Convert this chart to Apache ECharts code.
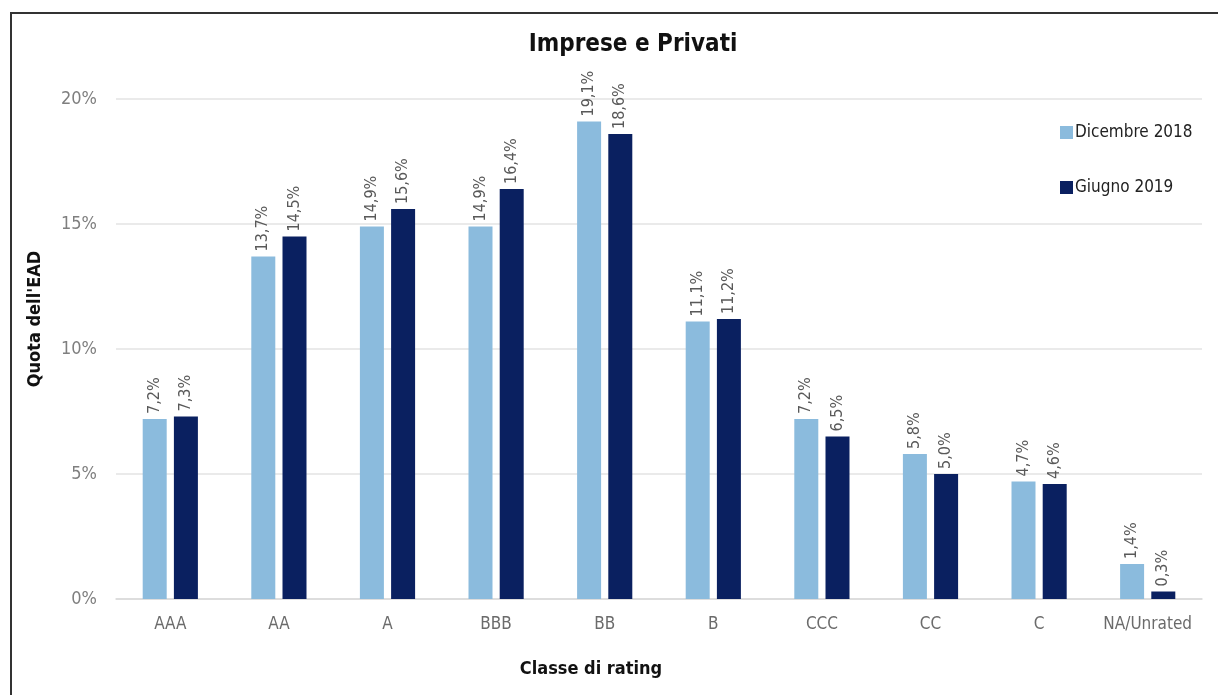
<!DOCTYPE html>
<html>
<head>
<meta charset="utf-8">
<script src="https://cdn.jsdelivr.net/npm/echarts@6/dist/echarts.min.js"></script>
<style>
  html, body { margin: 0; padding: 0; background: #ffffff; }
  #chart { width: 1218px; height: 695px; }
</style>
</head>
<body>
<div id="chart"></div>
<script>
// Rating classes on the x axis
const categories = ['AAA', 'AA', 'A', 'BBB', 'BB', 'B', 'CCC', 'CC', 'C', 'NA/Unrated'];
// Share of EAD (%) per rating class
const dic2018 = [7.2, 13.7, 14.9, 14.9, 19.1, 11.1, 7.2, 5.8, 4.7, 1.4];
const giu2019 = [7.3, 14.5, 15.6, 16.4, 18.6, 11.2, 6.5, 5.0, 4.6, 0.3];
const seriesNames = ['Dicembre 2018', 'Giugno 2019'];
const yTicks = [0, 5, 10, 15, 20];

const FONT = "'DejaVu Sans Condensed', 'Liberation Sans', sans-serif";
const fmt = v => v.toFixed(1).replace('.', ',') + '%';

const chart = echarts.init(document.getElementById('chart'), null, { renderer: 'canvas' });

const barLabel = {
  show: true,
  position: 'top',
  rotate: 90,
  align: 'left',
  verticalAlign: 'middle',
  distance: 5,
  fontFamily: FONT,
  fontSize: 16,
  color: '#595959',
  formatter: p => fmt(p.value)
};

chart.setOption({
  backgroundColor: '#ffffff',
  animation: false,
  graphic: [
    {
      type: 'rect',
      shape: { x: 11, y: 13, width: 1240, height: 720 },
      style: { fill: 'none', stroke: '#333333', lineWidth: 2 },
      silent: true
    },
    {
      // y-axis title
      type: 'text',
      x: 35,
      y: 319,
      rotation: Math.PI / 2,
      style: {
        text: "Quota dell'EAD",
        fontFamily: FONT, fontSize: 18, fontWeight: 'bold', fill: '#111111',
        align: 'center', verticalAlign: 'middle'
      },
      silent: true
    },
    {
      // x-axis title
      type: 'text',
      x: 591,
      y: 669,
      style: {
        text: 'Classe di rating',
        fontFamily: FONT, fontSize: 18, fontWeight: 'bold', fill: '#111111',
        align: 'center', verticalAlign: 'middle'
      },
      silent: true
    }
  ],
  title: {
    text: 'Imprese e Privati',
    left: 628,
    textAlign: 'center',
    top: 28,
    textStyle: { fontFamily: FONT, fontSize: 24, fontWeight: 'bold', color: '#111111' }
  },
  legend: {
    orient: 'vertical',
    left: 1055,
    top: 119,
    itemWidth: 13,
    itemHeight: 13,
    itemGap: 38,
    icon: 'rect',
    data: seriesNames,
    textStyle: { fontFamily: FONT, fontSize: 17, color: '#222222', padding: [0, 0, 0, -3] }
  },
  grid: { left: 116, right: 16, top: 99, bottom: 96 },
  xAxis: {
    type: 'category',
    data: categories,
    axisLine: { lineStyle: { color: '#D9D9D9', width: 1.5 } },
    axisTick: { show: false },
    axisLabel: { interval: 0, fontFamily: FONT, fontSize: 17, color: '#6b6b6b', margin: 17 }
  },
  yAxis: {
    type: 'value',
    min: yTicks[0],
    max: yTicks[yTicks.length - 1],
    interval: 5,
    axisLine: { show: false },
    axisTick: { show: false },
    splitLine: { lineStyle: { color: '#E3E3E3', width: 1.5 } },
    axisLabel: { fontFamily: FONT, fontSize: 18, color: '#7f7f7f', margin: 19, formatter: v => v + '%' }
  },
  series: [
    {
      name: seriesNames[0],
      type: 'bar',
      data: dic2018,
      barWidth: 24,
      barGap: '30%',
      itemStyle: { color: '#8BBBDD' },
      label: barLabel
    },
    {
      name: seriesNames[1],
      type: 'bar',
      data: giu2019,
      barWidth: 24,
      itemStyle: { color: '#0A2060' },
      label: barLabel
    }
  ]
});
</script>
</body>
</html>
